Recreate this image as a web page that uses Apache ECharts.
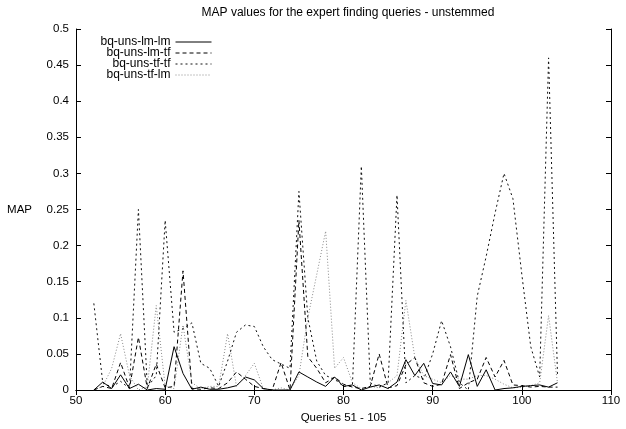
<!DOCTYPE html>
<html><head><meta charset="utf-8">
<script src="https://cdn.jsdelivr.net/npm/echarts@6/dist/echarts.min.js"></script>
<style>html,body{margin:0;padding:0;background:#fff}#c{width:626px;height:429px}</style>
</head><body><div id="c"></div>
<script>
const queries = [52,53,54,55,56,57,58,59,60,61,62,63,64,65,66,67,68,69,70,71,72,73,74,75,76,77,78,79,80,81,82,83,84,85,86,87,88,89,90,91,92,93,94,95,96,97,98,99,100,101,102,103,104];
const lmlm = [0,.011,.002,.021,.002,.008,0,.002,.001,.06,.023,.001,.004,.001,.001,.003,.006,.018,.014,.002,0,0,0,.025,.018,.011,.005,.018,.005,.007,0,.004,.007,.002,.011,.042,.02,.037,.009,.007,.025,.005,.049,.005,.028,0,.002,.003,.005,.006,.007,.004,.01];
const lmtf = [0,.005,.002,.038,.003,.073,.002,.036,.003,.005,.165,.002,.001,.003,.002,.01,.025,.015,.005,.002,0,.038,0,.235,.046,.03,.01,.018,.008,.004,.002,.005,.05,.003,.006,.035,.045,.01,.005,.008,.049,.002,.01,.015,.045,.018,.041,.007,.006,.004,.005,.004,.004];
const tftf = [.12,.01,.004,.012,.002,.25,.004,.02,.235,.08,.085,.093,.037,.03,.005,.04,.08,.09,.088,.06,.042,.036,.03,.275,.1,.04,.02,.015,.005,.006,.31,.01,.004,.01,.27,.01,.02,.015,.05,.096,.06,.01,0,.13,.185,.245,.3,.265,.16,.06,.018,.46,.02];
const tflm = [0,.005,.03,.078,.02,0,.005,.117,.005,.002,.09,.01,.002,.005,.005,.078,.005,.02,.037,.002,0,.003,0,.02,.1,.16,.22,.03,.045,.01,.002,.005,.003,.01,.02,.124,.045,.02,.015,.01,.02,.015,.015,.02,.02,.015,.008,.003,.004,.006,.01,.103,.01];
const seriesNames = ['bq-uns-lm-lm','bq-uns-lm-tf','bq-uns-tf-tf','bq-uns-tf-lm'];
const xTicks = [50,110,10];
const yTicks = [0,0.5,0.05];

const font = 'Liberation Sans, Arial, sans-serif';
const pair = arr => queries.map((q,i)=>[q,arr[i]]);
const styles = [
  {color:'#000', type:'solid'},
  {color:'#000', type:[4,3]},
  {color:'#111', type:[2,3]},
  {color:'#888', type:[1,2]}
];
const datas = [lmlm, lmtf, tftf, tflm];
const chart = echarts.init(document.getElementById('c'), null, {renderer:'canvas'});
const axisCommon = {
  axisLine:{show:true, lineStyle:{color:'#000', width:1}},
  axisTick:{show:true, inside:true, length:5, lineStyle:{color:'#000'}},
  splitLine:{show:false}
};
chart.setOption({
  animation:false,
  backgroundColor:'#fff',
  title:{text:'MAP values for the expert finding queries - unstemmed', left:343, textAlign:'center', top:2,
    textStyle:{fontFamily:font, fontSize:12, fontWeight:'normal', color:'#000'}},
  legend: seriesNames.map((n,i)=>({
    data:[n], right:414, top:36 + i*11, align:'right', itemWidth:36, itemHeight:8, itemGap:0,
    padding:0, itemStyle:{opacity:0}, lineStyle:{width:1},
    textStyle:{fontFamily:font, fontSize:12, color:'#000'}, selectedMode:false
  })),
  grid:{left:76, right:15, top:29, bottom:39, show:false, outerBoundsMode:'none', containLabel:false},
  xAxis:[
    Object.assign({type:'value', min:xTicks[0], max:xTicks[1], interval:xTicks[2], position:'bottom',
      name:'Queries 51 - 105', nameLocation:'middle', nameGap:22,
      nameTextStyle:{fontFamily:font, fontSize:11.5, color:'#000'},
      axisLabel:{fontFamily:font, fontSize:11.5, color:'#000', margin:5}}, axisCommon),
    Object.assign({type:'value', min:xTicks[0], max:xTicks[1], interval:xTicks[2], position:'top',
      axisLabel:{show:false}}, axisCommon)
  ],
  yAxis:[
    Object.assign({type:'value', min:yTicks[0], max:yTicks[1], interval:yTicks[2], position:'left',
      name:'MAP', nameLocation:'middle', nameGap:44, nameRotate:0,
      nameTextStyle:{fontFamily:font, fontSize:11.5, color:'#000', padding:[10,0,0,0]},
      axisLabel:{fontFamily:font, fontSize:11.5, color:'#000', margin:7}}, axisCommon),
    Object.assign({type:'value', min:yTicks[0], max:yTicks[1], interval:yTicks[2], position:'right',
      axisLabel:{show:false}}, axisCommon)
  ],
  series: seriesNames.map((n,i)=>({
    name:n, type:'line', data:pair(datas[i]), symbol:'none', xAxisIndex:0, yAxisIndex:0,
    lineStyle:{color:styles[i].color, type:styles[i].type, width:1},
    itemStyle:{color:styles[i].color}, z:10-i
  }))
});
</script></body></html>
